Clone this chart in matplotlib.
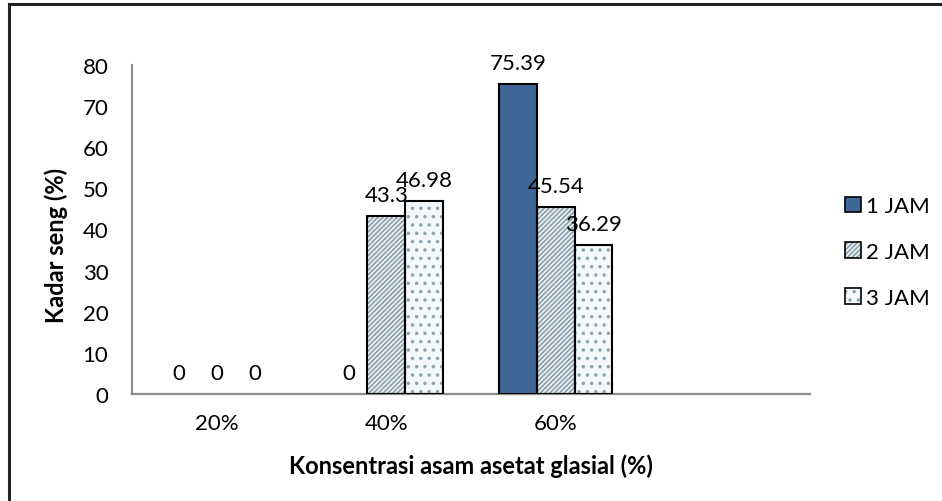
import matplotlib
matplotlib.use("Agg")
import matplotlib.pyplot as plt
from matplotlib.patches import Patch
from matplotlib.lines import Line2D
import numpy as np

plt.rcParams['font.family'] = ['Lato', 'DejaVu Sans']

categories = ["20%", "40%", "60%", ""]
series_names = ["1 JAM", "2 JAM", "3 JAM"]
jam1 = [0, 0, 75.39, np.nan]
jam2 = [0, 43.3, 45.54, np.nan]
jam3 = [0, 46.98, 36.29, np.nan]
values = [jam1, jam2, jam3]
# labels shown per bar (None = no label)
labels = [["0", "0", "75.39", None],
          ["0", "43.3", "45.54", None],
          ["0", "46.98", "36.29", None]]

styles = [
    dict(face="#3F6898", hatch=None, hcol=None),
    dict(face="#EEF4F7", hatch="///////", hcol="#8FA3AF"),
    dict(face="#F4F8FB", hatch="..", hcol="#8FA3AF"),
]

W, H = 942, 502
fig = plt.figure(figsize=(W / 100, H / 100), dpi=100)
ax = fig.add_axes([132 / W, 1 - 395 / H, 678 / W, 329 / H])

x = np.arange(len(categories))
bw = 0.222
fs = 16
plt.rcParams['hatch.linewidth'] = 1.3
for i, (vals, st) in enumerate(zip(values, styles)):
    pos = x + (i - 1) * bw
    v = np.array(vals, dtype=float)
    lw = [1.5 if (np.isfinite(val) and val > 0) else 0 for val in v]
    if st["hatch"]:
        ax.bar(pos, v, bw, color=st["face"], hatch=st["hatch"],
               edgecolor=st["hcol"], linewidth=0, zorder=2)
        ax.bar(pos, v, bw, fill=False, edgecolor="black", linewidth=lw, zorder=3)
    else:
        ax.bar(pos, v, bw, color=st["face"], edgecolor="black", linewidth=lw, zorder=3)
    for p, val, lab in zip(pos, v, labels[i]):
        if lab is None:
            continue
        ax.annotate(lab, (p, val), xytext=(0, 8), textcoords="offset points",
                    ha="center", va="bottom", fontsize=fs, color="black", zorder=4)

ax.set_xlim(-0.5, len(categories) - 0.5)
ax.set_ylim(0, 80)
ax.set_yticks(range(0, 81, 10))
ax.set_xticks(x)
ax.set_xticklabels(categories)
ax.tick_params(axis="both", length=0, labelsize=fs)
ax.tick_params(axis="y", pad=17)
ax.tick_params(axis="x", pad=14)
for s in ["top", "right"]:
    ax.spines[s].set_visible(False)
for s in ["left", "bottom"]:
    ax.spines[s].set_color("#8C8C8C")
    ax.spines[s].set_linewidth(1.6)

fig.text(471 / W, 1 - 466 / H, "Konsentrasi asam asetat glasial (%)",
         ha="center", va="center", fontsize=17, fontweight="bold")
fig.text(56 / W, 1 - 245 / H, "Kadar seng (%)", rotation=90,
         ha="center", va="center", fontsize=17, fontweight="bold")

# legend: hatched swatches get a light hatch under a black outline
handles = []
for st in styles:
    if st["hatch"]:
        handles.append((Patch(facecolor=st["face"], hatch=st["hatch"],
                              edgecolor=st["hcol"], linewidth=0),
                        Patch(fill=False, edgecolor="black", linewidth=1.2)))
    else:
        handles.append(Patch(facecolor=st["face"], edgecolor="black", linewidth=1.2))
leg = fig.legend(handles, series_names, loc="center left",
                 bbox_to_anchor=(845 / W, 1 - 253 / H), frameon=False,
                 fontsize=fs, handlelength=0.7, handleheight=0.7,
                 handletextpad=0.25, labelspacing=1.15, borderaxespad=0,
                 borderpad=0)

# outer frame
fig.add_artist(Line2D([9 / W, 9 / W], [0, 1 - 5 / H], color="#222222", lw=2.2,
                      transform=fig.transFigure))
fig.add_artist(Line2D([9 / W, 1], [1 - 5 / H, 1 - 5 / H], color="#222222", lw=2.2,
                      transform=fig.transFigure))

fig.savefig("out.png", dpi=100, facecolor="white")
